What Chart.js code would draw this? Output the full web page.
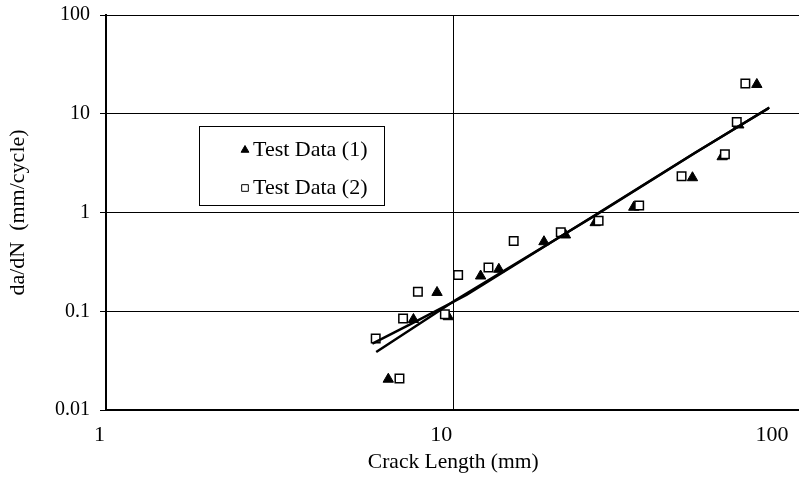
<!DOCTYPE html>
<html>
<head>
<meta charset="utf-8">
<script src="https://cdn.jsdelivr.net/npm/chart.js@4.4.1/dist/chart.umd.min.js"></script>
<style>
  html, body { margin: 0; padding: 0; background: #fff; overflow: hidden; }
  #wrap { width: 799px; height: 480px; position: relative; overflow: hidden; }
  /* the plot runs on a little past the right edge of the window */
  #inner { width: 808px; height: 480px; }
  #crack { display: block; }
</style>
</head>
<body>
<div id="wrap"><div id="inner"><canvas id="crack"></canvas></div></div>
<script>
// crack length (mm) vs growth rate da/dN (mm/cycle)
const crackLength1 = [6.50, 7.68, 8.98, 9.68, 11.99, 13.53, 18.25, 21.04, 25.63, 33.1, 48.85, 59.49, 66.4, 74.86];
const growthRate1 = [0.0205, 0.0825, 0.155, 0.088, 0.2275, 0.266, 0.506, 0.592, 0.789, 1.13, 2.25, 3.67, 7.7, 19.8];
const crackLength2 = [5.98, 7.00, 7.17, 7.91, 9.46, 10.33, 12.63, 14.93, 20.4, 26.22, 34.31, 45.45, 60.57, 65.53, 69.37];
const growthRate2 = [0.053, 0.0209, 0.0845, 0.158, 0.093, 0.233, 0.277, 0.515, 0.63, 0.826, 1.18, 2.33, 3.89, 8.25, 20.3];

// fitted curves
const fitLength1 = [5.85, 7.86, 10.91, 25.63, 49.4, 80.85];
const fitRate1 = [0.0471, 0.0797, 0.146, 0.943, 3.98, 11.35];
const fitLength2 = [6.00, 10.22, 25.63, 49.4, 81.37];
const fitRate2 = [0.0387, 0.1315, 0.932, 3.96, 11.57];

const xTicks = [1, 10, 100];
const yTicks = [0.01, 0.1, 1, 10, 100];
const seriesNames = ['Test Data (1)', 'Test Data (2)'];

const serif = 'Liberation Serif, Times New Roman, serif';

const toPoints = (xs, ys) => xs.map((x, i) => ({x: x, y: ys[i]}));

// boxed legend sitting inside the plot
const boxLegend = {
    id: 'boxLegend',
    afterDraw(chart) {
        const ctx = chart.ctx;
        const area = chart.chartArea;
        const x = area.left + 93, y = area.top + 111, w = 185, h = 79;
        ctx.save();
        ctx.fillStyle = '#fff';
        ctx.fillRect(x, y, w, h);
        ctx.strokeStyle = '#000';
        ctx.lineWidth = 1;
        ctx.strokeRect(x + 0.5, y + 0.5, w, h);

        const items = [
            {name: seriesNames[0], style: 'triangle', fill: '#000', r: 4.5},
            {name: seriesNames[1], style: 'rect', fill: '#fff', r: 4.7}
        ];
        ctx.font = '22px ' + serif;
        ctx.textBaseline = 'middle';
        items.forEach((it, i) => {
            const cy = y + 24 + i * 38;
            ctx.fillStyle = it.fill;
            ctx.strokeStyle = '#000';
            ctx.lineWidth = 1;
            Chart.helpers.drawPoint(ctx, {pointStyle: it.style, radius: it.r, borderWidth: 1, rotation: 0}, x + 46, cy);
            ctx.fillStyle = '#000';
            ctx.fillText(it.name, x + 54, cy);
        });
        ctx.restore();
    }
};

// keep the plot frame where the layout padding puts it
const noEdgePadding = s => {
    s.paddingTop = 0;
    s.paddingBottom = 0;
    s.paddingLeft = 0;
    s.paddingRight = 0;
};

new Chart(document.getElementById('crack'), {
    type: 'scatter',
    data: {
        datasets: [
            {
                label: 'fit 1',
                data: toPoints(fitLength1, fitRate1),
                showLine: true,
                borderColor: '#000',
                borderWidth: 2.5,
                pointRadius: 0,
                order: 0
            },
            {
                label: 'fit 2',
                data: toPoints(fitLength2, fitRate2),
                showLine: true,
                borderColor: '#000',
                borderWidth: 2.5,
                pointRadius: 0,
                order: 0
            },
            {
                label: seriesNames[1],
                data: toPoints(crackLength2, growthRate2),
                pointStyle: 'rect',
                pointRadius: 6,
                backgroundColor: '#fff',
                borderColor: '#000',
                pointBorderWidth: 1.5,
                order: 1
            },
            {
                label: seriesNames[0],
                data: toPoints(crackLength1, growthRate1),
                pointStyle: 'triangle',
                pointRadius: 6,
                backgroundColor: '#000',
                borderColor: '#000',
                pointBorderWidth: 1,
                order: 2
            }
        ]
    },
    options: {
        responsive: true,
        maintainAspectRatio: false,
        animation: false,
        layout: {
            padding: {left: 0, right: 0, top: 15, bottom: 0}
        },
        plugins: {
            legend: {display: false},
            tooltip: {enabled: false}
        },
        scales: {
            x: {
                type: 'logarithmic',
                min: 1,
                max: 100,
                afterBuildTicks: s => { s.ticks = xTicks.map(v => ({value: v})); },
                afterFit: s => { s.height = 70; noEdgePadding(s); },
                border: {display: true, color: '#000', width: 2},
                grid: {
                    color: c => (c.tick && c.tick.value === 10 ? '#000' : 'rgba(0,0,0,0)'),
                    lineWidth: 1,
                    drawTicks: false
                },
                ticks: {
                    color: '#000',
                    font: {family: serif, size: 22},
                    padding: 12,
                    maxRotation: 0,
                    align: 'inner',
                    labelOffset: -12,
                    callback: v => String(v)
                },
                title: {
                    display: true,
                    text: 'Crack Length (mm)',
                    color: '#000',
                    font: {family: serif, size: 21.5},
                    padding: {top: 0, bottom: 5}
                }
            },
            y: {
                type: 'logarithmic',
                min: 0.01,
                max: 100,
                afterBuildTicks: s => { s.ticks = yTicks.map(v => ({value: v})); },
                afterFit: s => { s.width = 106; noEdgePadding(s); },
                border: {display: true, color: '#000', width: 2},
                grid: {
                    color: '#000',
                    tickColor: '#000',
                    lineWidth: 1,
                    drawTicks: true,
                    tickLength: 6
                },
                ticks: {
                    color: '#000',
                    font: {family: serif, size: 20},
                    padding: 10,
                    callback: v => String(v)
                },
                title: {
                    display: true,
                    text: 'da/dN  (mm/cycle)',
                    color: '#000',
                    font: {family: serif, size: 22},
                    padding: {top: 5, bottom: 0}
                }
            }
        }
    },
    plugins: [boxLegend]
});
</script>
</body>
</html>
